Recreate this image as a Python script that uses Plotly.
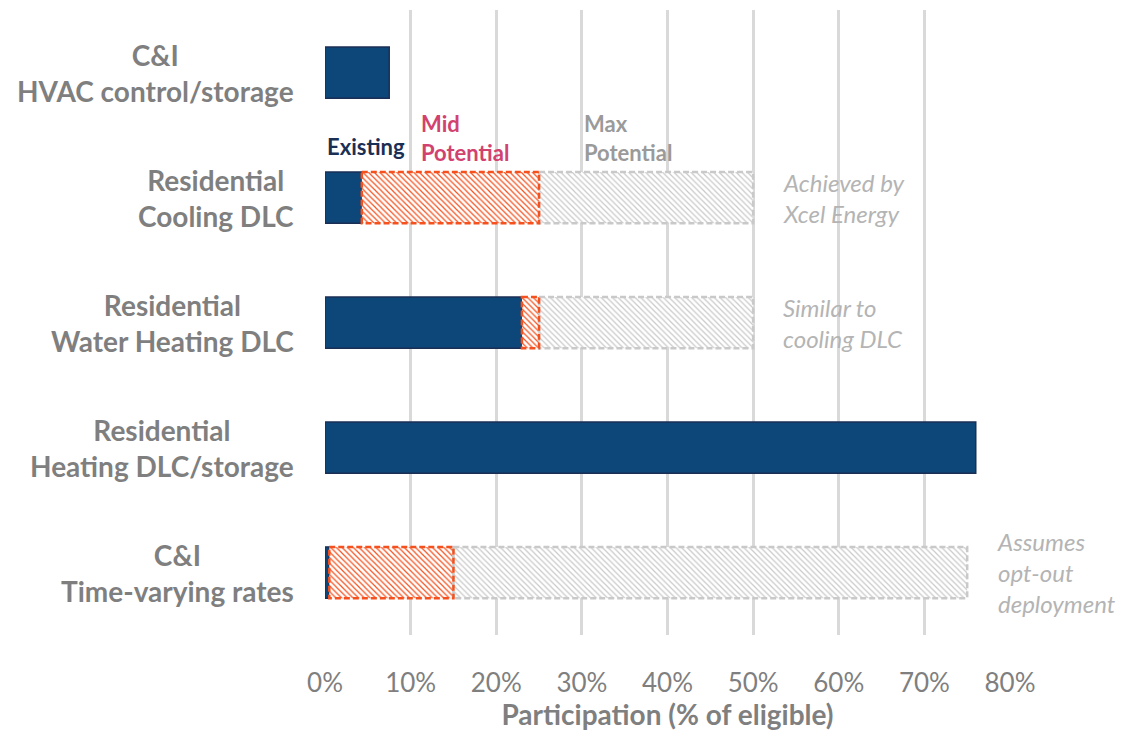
import plotly.graph_objects as go

categories = ["C&I<br>HVAC control/storage", "Residential<br>Cooling DLC",
              "Residential<br>Water Heating DLC", "Residential<br>Heating DLC/storage",
              "C&I<br>Time-varying rates"]
existing = [7.5, 4.3, 23.0, 76.0, 0.5]
mid_potential = [None, 25.0, 25.0, None, 15.0]
max_potential = [None, 50.0, 50.0, None, 75.0]
notes = [None, "Achieved by<br>Xcel Energy", "Similar to<br>cooling DLC", None,
         "Assumes<br>opt-out<br>deployment"]
x_ticks = [0, 10, 20, 30, 40, 50, 60, 70, 80]

NAVY = "#0d4679"
NAVY_LINE = "#1b2f55"
ORANGE = "#f4511e"
GRAY = "#c9c9c9"
LABEL_GRAY = "#7f7f7f"
FONT = "Lato"
BW = 0.41

idx = list(range(len(categories)))
fig = go.Figure()

# existing
fig.add_trace(go.Bar(y=idx, x=existing, orientation="h", width=BW,
                     marker=dict(color=NAVY, line=dict(color=NAVY_LINE, width=1.5)),
                     showlegend=False, hoverinfo="skip"))
# mid potential (hatched)
mid_len = [(m - e) if m is not None else 0 for m, e in zip(mid_potential, existing)]
mid_base = [e for e in existing]
fig.add_trace(go.Bar(y=idx, x=mid_len, base=mid_base, orientation="h", width=BW,
                     marker=dict(color="white", line=dict(width=0),
                                 pattern=dict(shape="\\", fgcolor=ORANGE, bgcolor="white",
                                              size=4, solidity=0.3, fillmode="replace")),
                     showlegend=False, hoverinfo="skip"))
# max potential (hatched)
max_len = [(M - m) if M is not None else 0 for M, m in zip(max_potential, mid_potential)]
max_base = [m if m is not None else 0 for m in mid_potential]
fig.add_trace(go.Bar(y=idx, x=max_len, base=max_base, orientation="h", width=BW,
                     marker=dict(color="white", line=dict(width=0),
                                 pattern=dict(shape="\\", fgcolor=GRAY, bgcolor="white",
                                              size=4, solidity=0.3, fillmode="replace")),
                     showlegend=False, hoverinfo="skip"))

shapes = []
for i in idx:
    if max_potential[i] is not None:
        shapes.append(dict(type="rect", xref="x", yref="y", x0=mid_potential[i], x1=max_potential[i],
                           y0=i - BW / 2, y1=i + BW / 2,
                           line=dict(color=GRAY, width=2.5, dash="6px,3px"), layer="above"))
    if mid_potential[i] is not None:
        shapes.append(dict(type="rect", xref="x", yref="y", x0=existing[i], x1=mid_potential[i],
                           y0=i - BW / 2, y1=i + BW / 2,
                           line=dict(color=ORANGE, width=2.5, dash="6px,3px"), layer="above"))

annotations = []
for i, c in enumerate(categories):
    annotations.append(dict(x=0, y=i, xref="x", yref="y", text=c, showarrow=False,
                            xanchor="right", yanchor="middle", align="center", xshift=-29,
                            font=dict(family=FONT, size=28, color=LABEL_GRAY, weight="bold")))
for i, n in enumerate(notes):
    if n:
        annotations.append(dict(x=max_potential[i], y=i, xref="x", yref="y", text=n, showarrow=False,
                                xanchor="left", yanchor="middle", align="left", xshift=28,
                                font=dict(family=FONT, size=24, color="#b4b4b4", style="italic")))

# series labels above the cooling bar
annotations.append(dict(x=0, y=1 - BW / 2, xref="x", yref="y", text="Existing", showarrow=False,
                        xanchor="left", yanchor="bottom", align="left", yshift=10,
                        font=dict(family=FONT, size=22, color="#1b2f55", weight="bold")))
annotations.append(dict(x=mid_potential[1] - 14.0, y=1 - BW / 2,
                        xref="x", yref="y", text="Mid<br>Potential", showarrow=False,
                        xanchor="left", yanchor="bottom", align="left", yshift=4,
                        font=dict(family=FONT, size=22, color="#d2426f", weight="bold")))
annotations.append(dict(x=mid_potential[1] + 5, y=1 - BW / 2, xref="x", yref="y",
                        text="Max<br>Potential", showarrow=False,
                        xanchor="left", yanchor="bottom", align="left", yshift=4,
                        font=dict(family=FONT, size=22, color="#9a9a9a", weight="bold")))

fig.update_layout(
    barmode="overlay",
    width=1118, height=723,
    margin=dict(l=317, r=116, t=2, b=96),
    plot_bgcolor="white", paper_bgcolor="white",
    shapes=shapes, annotations=annotations,
    xaxis=dict(range=[0, 80], tickvals=x_ticks, ticktext=[f"{v}%" for v in x_ticks],
               showgrid=True, gridcolor="#d9d9d9", gridwidth=3, zeroline=False,
               tickfont=dict(family=FONT, size=26, color=LABEL_GRAY), ticks="", ticklen=0,
               ticklabelstandoff=30,
               title=dict(text="Participation (% of eligible)", standoff=8,
                          font=dict(family=FONT, size=28, color=LABEL_GRAY, weight="bold")),
               showline=False),
    yaxis=dict(range=[len(categories) - 0.5, -0.5], showticklabels=False, showgrid=False,
               zeroline=False, showline=False),
)

fig.write_html("out.html")
